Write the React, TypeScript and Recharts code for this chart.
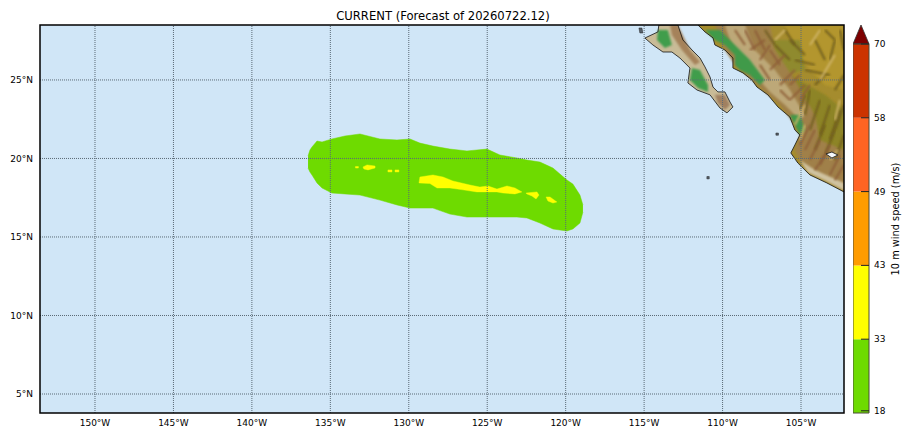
import React from 'react';
import { Area, Bar, BarChart, CartesianGrid, ComposedChart, ReferenceArea, ReferenceLine, Scatter, XAxis, YAxis } from 'recharts';

const FONT = '"DejaVu Sans", sans-serif';

const lonTicks = [-150, -145, -140, -135, -130, -125, -120, -115, -110, -105];
const latTicks = [5, 10, 15, 20, 25];
const lonDomain = [-153.505, -102.26];
const latDomain = [3.79, 28.5];

// wind swath, lower and upper edge per longitude
const swathLon = [-136.42, -136.3, -136.17, -135.85, -135.53, -134.9, -134.07, -133.11, -131.84, -130.75, -129.92, -129.29, -128.46, -127.38, -126.29, -125.02, -124.19, -123.11, -122.47, -121.64, -120.81, -119.92, -119.54, -119.09, -118.9];
const swathLow = [19.39, 19.14, 18.95, 18.44, 18.12, 17.8, 17.74, 17.67, 17.35, 17.04, 16.84, 16.84, 16.84, 16.46, 16.27, 16.27, 16.27, 16.27, 16.21, 15.89, 15.51, 15.38, 15.51, 15.89, 16.59];
const swathHigh = [20.16, 20.54, 20.73, 21.11, 21.05, 21.24, 21.43, 21.56, 21.24, 21.18, 21.24, 20.98, 20.79, 20.6, 20.48, 20.6, 20.22, 20.03, 19.9, 19.77, 19.39, 18.63, 18.37, 17.67, 17.04];

const yellowPatches = [
  [[-129.29, 18.82], [-128.46, 18.95], [-127.82, 18.82], [-127.19, 18.57], [-126.1, 18.31], [-125.47, 18.18], [-124.95, 18.25], [-124.38, 18.05], [-123.74, 18.25], [-123.23, 18.12], [-122.79, 17.87], [-123.23, 17.74], [-124.0, 17.8], [-124.38, 17.87], [-124.95, 17.87], [-125.66, 17.87], [-126.55, 18.0], [-127.38, 18.12], [-128.2, 18.12], [-128.65, 18.4], [-129.35, 18.44]],
  [[-122.53, 17.8], [-121.83, 17.87], [-121.7, 17.67], [-121.89, 17.42], [-122.15, 17.61], [-122.47, 17.74]],
  [[-121.25, 17.55], [-121.0, 17.55], [-120.56, 17.23], [-120.81, 17.16], [-121.13, 17.29]],
  [[-132.92, 19.46], [-132.66, 19.59], [-132.15, 19.52], [-132.15, 19.39], [-132.6, 19.27], [-132.86, 19.33]],
  [[-133.4, 19.49], [-133.21, 19.49], [-133.21, 19.39], [-133.4, 19.39]],
  [[-131.33, 19.27], [-131.07, 19.27], [-131.07, 19.14], [-131.33, 19.14]],
  [[-130.88, 19.27], [-130.63, 19.27], [-130.63, 19.14], [-130.88, 19.14]],
];

const mainlandCoast = [[-111.57, 28.5], [-111.12, 28.06], [-110.61, 27.68], [-110.49, 27.23], [-109.85, 26.91], [-109.34, 26.4], [-109.34, 25.76], [-108.7, 25.45], [-108.13, 25.0], [-107.81, 24.55], [-107.11, 24.05], [-106.47, 23.28], [-105.71, 22.64], [-105.39, 21.81], [-105.07, 21.5], [-105.39, 20.86], [-105.65, 20.35], [-105.2, 19.71], [-104.43, 18.95], [-103.35, 18.44], [-102.26, 17.87]];
const mainland = [...mainlandCoast, [-102.26, 28.5]];
const baja = [[-114.95, 27.67], [-114.12, 28.06], [-114.06, 28.5], [-112.85, 28.5], [-112.53, 27.55], [-111.95, 26.91], [-111.44, 26.4], [-111.12, 25.83], [-110.8, 25.19], [-110.61, 24.55], [-110.3, 24.24], [-109.85, 24.24], [-109.53, 23.6], [-109.34, 23.28], [-109.72, 22.9], [-110.17, 23.22], [-110.8, 24.05], [-111.63, 24.36], [-112.21, 24.81], [-112.08, 25.76], [-112.72, 26.4], [-113.23, 26.78], [-113.8, 26.78], [-114.44, 27.23]];
const islands = [
  [[-115.33, 28.31], [-115.14, 28.31], [-115.08, 27.99], [-115.27, 27.99]],
  [[-106.6, 21.62], [-106.44, 21.62], [-106.44, 21.48], [-106.6, 21.48]],
  [[-111.0, 18.85], [-110.85, 18.85], [-110.85, 18.7], [-111.0, 18.7]],
];
const lake = [[-103.41, 20.29], [-103.03, 20.41], [-102.65, 20.22], [-103.03, 20.03]];

// terrain colour patches, painted in order
const terrainColors = ['#a58c2e', '#b3962f', '#8d8426', '#8f8a2d', '#a08048', '#bda878', '#d0c3a0', '#3f9a4a', '#3f9a4a', '#c9bb97', '#3f9d4c', '#3f9d4c', '#a5825a', '#a08060'];
const terrainPatches = [
  mainland,
  [[-106.02, 28.5], [-102.26, 28.5], [-102.26, 24.36], [-103.47, 24.68], [-104.43, 25.64], [-105.39, 26.91]],
  [[-105.71, 25.32], [-103.47, 24.05], [-102.26, 23.09], [-102.26, 19.91], [-103.79, 19.59], [-104.43, 21.82]],
  [[-106.98, 27.55], [-105.07, 27.55], [-104.75, 25.64], [-106.02, 25.32]],
  [[-110.49, 28.5], [-106.98, 28.5], [-106.66, 26.91], [-105.39, 25.0], [-104.11, 22.77], [-103.79, 21.18], [-102.26, 20.54], [-102.26, 17.99], [-103.35, 18.63], [-104.43, 19.1], [-105.07, 19.91], [-105.39, 20.54], [-105.07, 21.5], [-105.39, 22.14], [-106.34, 23.41], [-107.3, 24.23], [-108.25, 25.12], [-109.21, 25.96], [-109.85, 26.91]],
  [[-109.85, 28.5], [-108.57, 28.5], [-107.94, 26.91], [-106.66, 25.64], [-105.71, 24.36], [-104.75, 22.77], [-105.07, 22.45], [-106.02, 23.41], [-106.98, 24.23], [-107.94, 25.32], [-108.89, 26.27], [-109.53, 27.55]],
  [[-105.07, 19.91], [-104.11, 19.27], [-102.26, 18.44], [-102.26, 17.96], [-103.47, 18.6], [-104.56, 19.1]],
  [[-111.12, 28.18], [-110.17, 28.18], [-109.21, 27.23], [-108.25, 26.27], [-107.3, 25.0], [-107.62, 24.68], [-108.25, 25.32], [-108.89, 25.64], [-109.21, 25.96], [-109.21, 26.59], [-109.85, 27.23], [-110.49, 27.55], [-110.8, 27.87]],
  [[-105.71, 22.77], [-105.07, 22.77], [-104.75, 21.82], [-105.07, 21.5], [-105.39, 22.14]],
  baja,
  [[-114.12, 28.18], [-113.49, 28.18], [-113.23, 27.23], [-113.68, 27.04], [-114.18, 27.55]],
  [[-111.95, 25.76], [-111.44, 25.64], [-110.93, 24.68], [-110.93, 24.24], [-111.57, 24.49], [-112.08, 25.0]],
  [[-113.35, 28.5], [-112.85, 28.5], [-112.08, 26.91], [-111.44, 26.15], [-111.76, 25.96], [-112.59, 26.91], [-113.23, 27.87]],
  [[-110.49, 24.05], [-109.85, 24.05], [-109.53, 23.41], [-109.85, 23.09], [-110.3, 23.53]],
];

const darkRidges = [
  [[-104.43, 21.82], [-103.79, 23.73]],
  [[-103.79, 21.5], [-103.16, 23.41]],
  [[-103.16, 21.18], [-102.52, 23.09]],
  [[-104.75, 22.77], [-104.43, 24.36]],
  [[-102.84, 19.91], [-102.26, 21.5]],
  [[-106.66, 27.23], [-105.71, 26.27]],
  [[-105.71, 27.55], [-104.75, 26.59]],
  [[-104.11, 27.55], [-103.47, 26.27]],
  [[-102.84, 27.55], [-103.16, 26.27]],
  [[-104.75, 25.64], [-103.16, 25.32]],
  [[-107.3, 28.18], [-106.66, 27.23]],
  [[-106.02, 28.18], [-105.39, 27.23]],
  [[-103.47, 28.18], [-102.84, 27.55]],
  [[-102.52, 28.18], [-102.26, 26.91]],
  [[-105.39, 26.27], [-104.11, 25.96]],
  [[-104.11, 24.68], [-103.47, 25.32]],
  [[-102.84, 24.36], [-102.26, 25.32]],
  [[-105.07, 23.09], [-104.75, 24.05]],
  [[-104.11, 20.54], [-103.47, 22.14]],
  [[-103.47, 20.22], [-102.84, 21.82]],
  [[-102.84, 21.82], [-102.26, 23.41]],
];
const brownRidges = [
  [[-106.98, 25.64], [-106.02, 26.59]],
  [[-106.34, 24.68], [-105.39, 25.64]],
  [[-105.71, 23.73], [-104.75, 24.68]],
  [[-104.75, 20.54], [-104.11, 21.82]],
  [[-103.79, 19.59], [-103.16, 20.86]],
  [[-108.25, 26.91], [-107.3, 27.55]],
  [[-104.11, 19.27], [-103.47, 20.22]],
  [[-107.94, 28.18], [-107.3, 26.91]],
  [[-106.98, 26.91], [-106.34, 25.96]],
  [[-107.62, 26.27], [-106.98, 27.23]],
  [[-105.71, 24.68], [-105.07, 25.32]],
  [[-105.07, 23.73], [-104.43, 24.68]],
  [[-104.43, 19.91], [-103.79, 21.18]],
  [[-103.16, 18.95], [-102.52, 20.22]],
  [[-102.84, 18.63], [-102.26, 19.59]],
  [[-105.07, 20.86], [-104.43, 22.14]],
  [[-109.21, 28.18], [-108.57, 27.23]],
  [[-108.57, 28.18], [-107.94, 26.91]],
  [[-107.62, 25.96], [-106.98, 25.0]],
  [[-106.34, 24.36], [-105.71, 23.73]],
];
const paleRidges = [
  [[-103.79, 25.0], [-102.84, 26.59]],
  [[-105.39, 22.14], [-104.75, 23.41]],
  [[-105.07, 21.18], [-104.75, 22.14]],
  [[-102.84, 22.45], [-102.52, 23.73]],
  [[-103.16, 19.91], [-102.65, 20.54]],
  [[-106.66, 27.55], [-106.02, 28.18]],
  [[-104.43, 27.23], [-103.79, 28.18]],
];

// colour bar: tick labels sit on segment edges, spacing is not linear in m/s
const colorbarLevels = [18, 33, 43, 49, 58, 70];
const colorbarTicks = [0.03, 1, 2, 3, 4, 5];
const colorbarColors = ['#6edb00', '#ffff00', '#ff9c00', '#ff6423', '#cc3300'];
const colorbarRow = [{ name: 'wind', s0: 1, s1: 1, s2: 1, s3: 1, s4: 1, over: 0.257 }];

const swathTable = swathLon.map((lon, i) => ({ lon, band: [swathLow[i], swathHigh[i]] }));
const toPoints = (pairs: number[][]) => pairs.map(([lon, lat]) => ({ lon, lat }));

const pathOf = (points: { x: number; y: number }[], closed: boolean) =>
  'M' + points.map((q) => `${q.x},${q.y}`).join('L') + (closed ? 'Z' : '');

const noDot = () => null;

const shapeLine = (style: React.SVGProps<SVGPathElement>, closed = true) => (props: any) => (
  <path d={pathOf(props.points, closed)} {...style} />
);

const Triangle = (props: any) => {
  const { x, y, width, height } = props;
  return <path d={`M${x},${y + height}L${x + width / 2},${y}L${x + width},${y + height}Z`} fill="#7d0000" stroke="#333" strokeWidth={0.8} />;
};

const ColorbarTick = (props: any) => {
  const { x, y, payload } = props;
  const label = colorbarLevels[colorbarTicks.indexOf(payload.value)];
  return (
    <g>
      <line x1={x - 16} x2={x - 8} y1={y} y2={y} stroke="#222" strokeWidth={1} />
      <text x={x - 3} y={y + 3} fontSize={9} fontFamily={FONT} fill="#000">{label}</text>
    </g>
  );
};

export default function App() {
  return (
    <div style={{ position: 'absolute', left: 0, top: 0, width: 912, height: 440, background: '#fff' }}>
      <div style={{ position: 'absolute', left: 40, width: 806, top: 9, textAlign: 'center', fontFamily: FONT, fontSize: 11.6, lineHeight: '14px', color: '#000' }}>
        CURRENT (Forecast of 20260722.12)
      </div>
      <div style={{ position: 'absolute', left: 0, top: 0 }}>
        <ComposedChart width={850} height={440} margin={{ top: 25, right: 6, bottom: 0, left: 0 }}>
          <defs>
            <filter id="soft" x="-10%" y="-10%" width="120%" height="120%">
              <feGaussianBlur stdDeviation="1.2" />
            </filter>
          </defs>
          <CartesianGrid fill="#d0e6f7" horizontal={false} vertical={false} />
          <XAxis
            dataKey="lon"
            type="number"
            domain={lonDomain}
            ticks={lonTicks}
            allowDataOverflow
            height={27}
            tickLine={false}
            axisLine={false}
            tickSize={0}
            tickMargin={7}
            interval={0}
            tickFormatter={(v: number) => `${Math.abs(v)}°W`}
            tick={{ fontSize: 9, fontFamily: FONT, fill: '#000' }}
          />
          <YAxis
            dataKey="lat"
            type="number"
            domain={latDomain}
            ticks={latTicks}
            allowDataOverflow
            width={40}
            tickLine={false}
            axisLine={false}
            tickSize={0}
            tickMargin={7}
            interval={0}
            tickFormatter={(v: number) => `${v}°N`}
            tick={{ fontSize: 9, fontFamily: FONT, fill: '#000' }}
          />
          <Area data={swathTable} dataKey="band" type="linear" fill="#6edb00" fillOpacity={1} stroke="#6edb00" strokeWidth={0.5} dot={false} activeDot={false} isAnimationActive={false} />
          {yellowPatches.map((patch, i) => (
            <Scatter key={`y${i}`} data={toPoints(patch)} shape={noDot} line={shapeLine({ fill: '#ffff00', stroke: '#ffff00', strokeWidth: 0.4 })} isAnimationActive={false} />
          ))}
          {terrainPatches.map((patch, i) => (
            <Scatter key={`t${i}`} data={toPoints(patch)} shape={noDot} line={shapeLine({ fill: terrainColors[i], filter: i === 0 || i === 9 ? undefined : 'url(#soft)' })} isAnimationActive={false} />
          ))}
          {darkRidges.map((r, i) => (
            <Scatter key={`d${i}`} data={toPoints(r)} shape={noDot} line={shapeLine({ fill: 'none', stroke: '#6f5d1c', strokeWidth: 2, filter: 'url(#soft)' }, false)} isAnimationActive={false} />
          ))}
          {brownRidges.map((r, i) => (
            <Scatter key={`b${i}`} data={toPoints(r)} shape={noDot} line={shapeLine({ fill: 'none', stroke: '#8e5f38', strokeWidth: 2, filter: 'url(#soft)' }, false)} isAnimationActive={false} />
          ))}
          {paleRidges.map((r, i) => (
            <Scatter key={`p${i}`} data={toPoints(r)} shape={noDot} line={shapeLine({ fill: 'none', stroke: '#cfb468', strokeWidth: 2, filter: 'url(#soft)' }, false)} isAnimationActive={false} />
          ))}
          <Scatter data={toPoints(mainlandCoast)} shape={noDot} line={shapeLine({ fill: 'none', stroke: '#111', strokeWidth: 0.8 }, false)} isAnimationActive={false} />
          <Scatter data={toPoints(baja)} shape={noDot} line={shapeLine({ fill: 'none', stroke: '#111', strokeWidth: 0.8 })} isAnimationActive={false} />
          {islands.map((patch, i) => (
            <Scatter key={`i${i}`} data={toPoints(patch)} shape={noDot} line={shapeLine({ fill: '#56606a', stroke: '#222', strokeWidth: 0.5 })} isAnimationActive={false} />
          ))}
          <Scatter data={toPoints(lake)} shape={noDot} line={shapeLine({ fill: '#f4f8fb', stroke: '#111', strokeWidth: 0.8 })} isAnimationActive={false} />
          {lonTicks.map((v) => (
            <ReferenceLine key={v} x={v} stroke="#5a6a76" strokeWidth={1} strokeDasharray="1 1" zIndex={700} />
          ))}
          {latTicks.map((v) => (
            <ReferenceLine key={v} y={v} stroke="#5a6a76" strokeWidth={1} strokeDasharray="1 1" zIndex={700} />
          ))}
          <ReferenceArea x1={lonDomain[0]} x2={lonDomain[1]} y1={latDomain[0]} y2={latDomain[1]} fill="none" stroke="#000" strokeWidth={1.5} zIndex={800} />
        </ComposedChart>
      </div>
      <div style={{ position: 'absolute', left: 853, top: 0 }}>
        <BarChart width={59} height={440} data={colorbarRow} barCategoryGap={0} margin={{ top: 25, right: 0, bottom: 27, left: 0 }}>
          <XAxis dataKey="name" hide />
          <YAxis
            orientation="right"
            type="number"
            domain={[0, 5.257]}
            ticks={colorbarTicks}
            interval={0}
            width={43}
            axisLine={false}
            tickLine={false}
            tick={<ColorbarTick />}
            label={{ value: '10 m wind speed (m/s)', angle: -90, position: 'insideRight', offset: 16, style: { fontSize: 9.8, fontFamily: FONT, fill: '#000', textAnchor: 'middle' } }}
          />
          {colorbarColors.map((c, i) => (
            <Bar key={c} dataKey={`s${i}`} stackId="cb" fill={c} isAnimationActive={false} />
          ))}
          <Bar dataKey="over" stackId="cb" shape={<Triangle />} isAnimationActive={false} />
          <ReferenceArea y1={0} y2={5} fill="none" stroke="#4a4a3a" strokeWidth={1} zIndex={800} />
        </BarChart>
      </div>
    </div>
  );
}
